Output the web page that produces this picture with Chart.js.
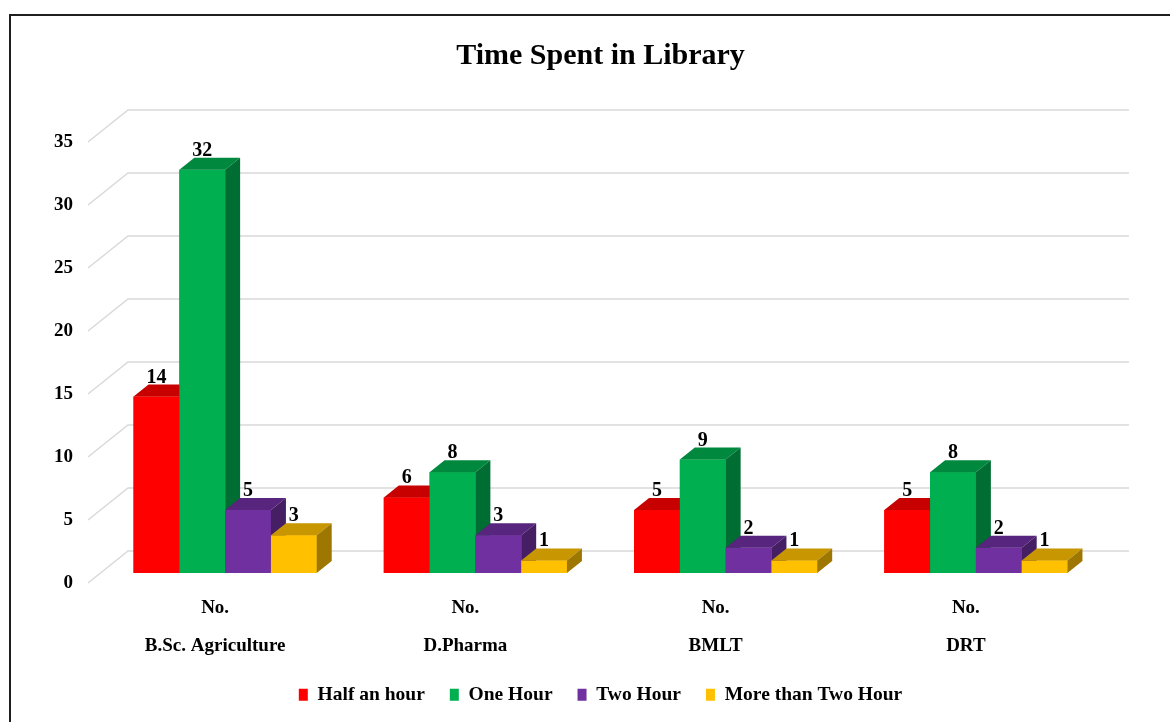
<!DOCTYPE html>
<html>
<head>
<meta charset="utf-8">
<script src="https://cdn.jsdelivr.net/npm/chart.js@4.4.1/dist/chart.umd.min.js"></script>
<style>
  html, body { margin: 0; padding: 0; background: #fff; }
</style>
</head>
<body>
<canvas id="libChart" width="1170" height="722"></canvas>
<script>
const courses = ['B.Sc. Agriculture', 'D.Pharma', 'BMLT', 'DRT'];
const halfHour = [14, 6, 5, 5];
const oneHour = [32, 8, 9, 8];
const twoHour = [5, 3, 2, 2];
const moreThanTwo = [3, 1, 1, 1];
const yTicks = [0, 5, 10, 15, 20, 25, 30, 35];

const serif = "'Liberation Serif', 'Times New Roman', serif";

// 3d look: bar depth, back wall offset and front edge of the side wall
const depthX = 15, depthY = -12;
const wallX = 28, wallY = -22;
const sideX = -12, sideY = 10;

function shade(hex, f) {
    const n = parseInt(hex.slice(1), 16);
    const r = Math.round(((n >> 16) & 255) * f);
    const g = Math.round(((n >> 8) & 255) * f);
    const b = Math.round((n & 255) * f);
    return 'rgb(' + r + ',' + g + ',' + b + ')';
}

const frame3d = {
    id: 'frame3d',
    beforeDraw(chart) {
        const ctx = chart.ctx;
        ctx.save();
        ctx.strokeStyle = '#1f1f1f';
        ctx.lineWidth = 2;
        ctx.beginPath();
        ctx.moveTo(10, 722);
        ctx.lineTo(10, 15);
        ctx.lineTo(1170, 15);
        ctx.stroke();
        ctx.restore();
    },
    beforeDatasetsDraw(chart) {
        const ctx = chart.ctx;
        const a = chart.chartArea;
        const y = chart.scales.y;
        ctx.save();
        ctx.strokeStyle = '#d9d9d9';
        ctx.lineWidth = 1.5;
        yTicks.forEach(function(v) {
            const py = y.getPixelForValue(v);
            ctx.beginPath();
            ctx.moveTo(a.left + sideX, py + sideY);
            ctx.lineTo(a.left + wallX, py + wallY);
            ctx.lineTo(a.right + wallX, py + wallY);
            ctx.stroke();
        });
        ctx.restore();
    },
    afterDatasetsDraw(chart) {
        const ctx = chart.ctx;
        const labels = [];
        ctx.save();
        chart.data.datasets.forEach(function(ds, i) {
            const meta = chart.getDatasetMeta(i);
            meta.data.forEach(function(bar, j) {
                const p = bar.getProps(['x', 'y', 'base', 'width'], true);
                const l = p.x - p.width / 2, r = p.x + p.width / 2;
                const col = ds.backgroundColor;
                ctx.fillStyle = col;
                ctx.fillRect(l, p.y, p.width, p.base - p.y);
                ctx.fillStyle = shade(col, 0.78);
                ctx.beginPath();
                ctx.moveTo(l, p.y);
                ctx.lineTo(l + depthX, p.y + depthY);
                ctx.lineTo(r + depthX, p.y + depthY);
                ctx.lineTo(r, p.y);
                ctx.closePath();
                ctx.fill();
                ctx.fillStyle = shade(col, 0.62);
                ctx.beginPath();
                ctx.moveTo(r, p.y);
                ctx.lineTo(r + depthX, p.y + depthY);
                ctx.lineTo(r + depthX, p.base + depthY);
                ctx.lineTo(r, p.base);
                ctx.closePath();
                ctx.fill();
                labels.push([ds.data[j], p.x, p.y + depthY - 2]);
            });
        });
        ctx.fillStyle = '#000';
        ctx.font = 'bold 20px ' + serif;
        ctx.textAlign = 'center';
        ctx.textBaseline = 'alphabetic';
        labels.forEach(function(t) {
            ctx.fillText(t[0], t[1], t[2]);
        });
        ctx.restore();
    }
};

new Chart(document.getElementById('libChart'), {
    type: 'bar',
    data: {
        labels: courses.map(function(c) { return ['No.', c]; }),
        datasets: [{
            label: 'Half an hour',
            data: halfHour,
            backgroundColor: '#ff0000'
        }, {
            label: 'One Hour',
            data: oneHour,
            backgroundColor: '#00b050'
        }, {
            label: 'Two Hour',
            data: twoHour,
            backgroundColor: '#7030a0'
        }, {
            label: 'More than Two Hour',
            data: moreThanTwo,
            backgroundColor: '#ffc000'
        }]
    },
    options: {
        responsive: false,
        animation: false,
        events: [],
        layout: {
            padding: { top: 20, right: 69, bottom: 7.5, left: 0 }
        },
        datasets: {
            bar: {
                barPercentage: 1,
                categoryPercentage: 0.732
            }
        },
        plugins: {
            title: {
                display: true,
                fullSize: false,
                text: 'Time Spent in Library',
                color: '#000',
                font: { family: serif, size: 30, weight: 'bold' },
                padding: { top: 18, bottom: 58 }
            },
            legend: {
                position: 'bottom',
                fullSize: false,
                labels: {
                    color: '#000',
                    font: { family: serif, size: 19.5, weight: 'bold' },
                    boxWidth: 9,
                    boxHeight: 12,
                    padding: 25
                }
            },
            tooltip: { enabled: false }
        },
        scales: {
            x: {
                grid: { display: false, drawTicks: false },
                border: { display: false },
                ticks: {
                    color: '#000',
                    font: { family: serif, size: 19, weight: 'bold', lineHeight: 2 },
                    padding: 16,
                    labelOffset: -10,
                    maxRotation: 0
                },
                afterFit: function(scale) { scale.height = 87; }
            },
            y: {
                min: 0,
                max: 35,
                grid: { display: false, drawTicks: false },
                border: { display: false },
                ticks: {
                    stepSize: 5,
                    color: '#000',
                    font: { family: serif, size: 19, weight: 'bold' },
                    padding: 27,
                    labelOffset: 10
                },
                afterFit: function(scale) { scale.width = 100; }
            }
        }
    },
    plugins: [frame3d]
});
</script>
</body>
</html>
